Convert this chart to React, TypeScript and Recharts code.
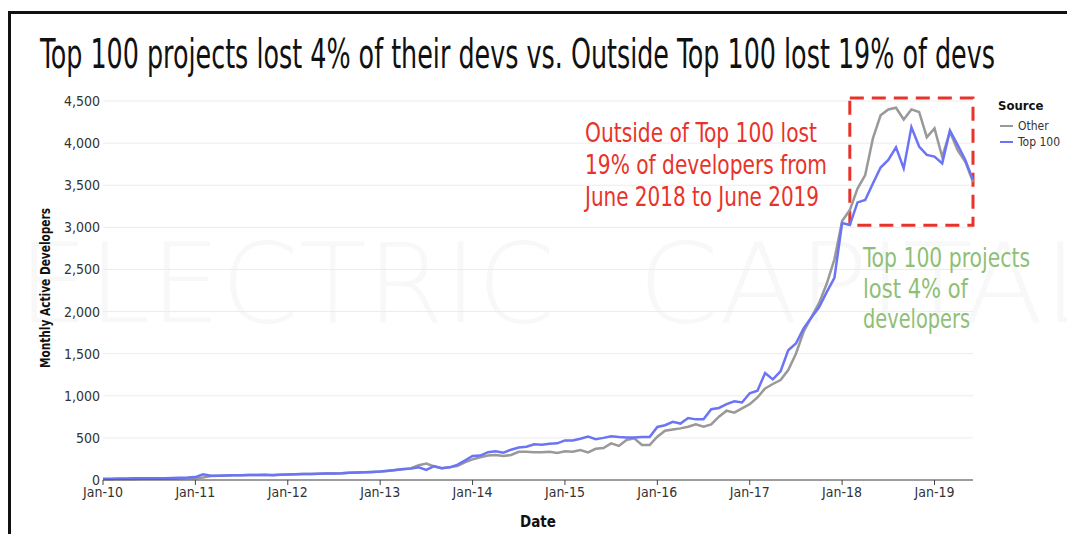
import React from "react";
import {
  LineChart,
  Line,
  XAxis,
  YAxis,
  CartesianGrid,
  ReferenceArea,
} from "recharts";

// monthly active developers, Jan-10 .. Jun-19 (one value per month)
const topHundred = [
  15, 15, 18, 18, 20, 20, 20, 22, 22, 25, 28, 30,
  35, 68, 50, 50, 52, 55, 55, 58, 60, 62, 55, 62,
  65, 68, 70, 72, 74, 76, 78, 80, 85, 88, 92, 96,
  100, 110, 120, 130, 135, 150, 120, 165, 140, 150, 180, 230,
  285, 290, 330, 340, 325, 360, 385, 395, 425, 420, 430, 435,
  470, 470, 490, 515, 485, 500, 520, 510, 505, 505, 510, 510,
  630, 650, 690, 670, 735, 720, 720, 840, 855, 900, 935, 920,
  1030, 1060, 1270, 1195, 1290, 1540, 1620, 1800, 1930, 2050, 2230, 2400,
  3050, 3027, 3296, 3324, 3520, 3710, 3800, 3950, 3700, 4190, 3960, 3860,
  3840, 3760, 4150, 3980, 3800, 3560,
];

const other = [
  10, 10, 12, 12, 12, 14, 15, 15, 15, 16, 18, 20,
  22, 30, 48, 50, 52, 55, 55, 58, 60, 60, 58, 62,
  65, 68, 70, 72, 74, 76, 78, 80, 85, 88, 92, 96,
  100, 108, 118, 128, 140, 175, 195, 160, 140, 150, 165, 210,
  245, 270, 290, 297, 285, 297, 335, 336, 330, 330, 336, 320,
  340, 336, 356, 328, 370, 380, 435, 404, 475, 494, 415, 415,
  514, 585, 600, 613, 633, 661, 633, 661, 752, 823, 799, 851,
  900, 980, 1088, 1140, 1187, 1306, 1500, 1760, 1930, 2100, 2330, 2620,
  3074, 3205, 3460, 3620, 4056, 4330, 4400, 4420, 4280, 4400, 4370, 4070,
  4175, 3838, 4134, 3917, 3778, 3540,
];

const tickLabels = [
  "Jan-10", "Jan-11", "Jan-12", "Jan-13", "Jan-14",
  "Jan-15", "Jan-16", "Jan-17", "Jan-18", "Jan-19",
];
const yTicks = [0, 500, 1000, 1500, 2000, 2500, 3000, 3500, 4000, 4500];

const data = topHundred.map((v, i) => ({ t: i, top: v, other: other[i] }));
const xTicks = tickLabels.map((_, i) => i * 12);

const NARROW = "'Liberation Sans Narrow', 'DejaVu Sans Condensed', 'Roboto', sans-serif";
const RED = "#e8332a";
const GREEN = "#8fbf76";
const BLUE = "#6b74f5";
const GREY = "#999999";

export default function App() {
  return (
    <div
      style={{
        position: "absolute",
        left: 0,
        top: 0,
        width: 1067,
        height: 534,
        overflow: "hidden",
        background: "#fff",
      }}
    >
      {/* watermark */}
      <svg width={1067} height={534} style={{ position: "absolute", left: 0, top: 0 }}>
        <text x={18} y={322} fontFamily="'DejaVu Sans', sans-serif" fontSize={110} fontWeight={300}
          fill="#f8f8f8" textLength={537} lengthAdjust="spacingAndGlyphs">
          ELECTRIC
        </text>
        <text x={638} y={322} fontFamily="'DejaVu Sans', sans-serif" fontSize={110} fontWeight={300}
          fill="#f8f8f8" textLength={470} lengthAdjust="spacingAndGlyphs">
          CAPITAL
        </text>
      </svg>

      <div
        style={{
          position: "absolute",
          left: 8,
          top: 11,
          width: 1100,
          height: 600,
          border: "3px solid #111",
        }}
      />

      <div style={{ position: "absolute", left: 0, top: 0 }}>
        <LineChart
          width={1067}
          height={534}
          data={data}
          margin={{ top: 101, right: 94, bottom: 24, left: 43 }}
        >
          <CartesianGrid vertical={false} stroke="#ececec" />
          <XAxis
            dataKey="t"
            type="number"
            domain={[0, 113]}
            ticks={xTicks}
            tickFormatter={(v) => tickLabels[v / 12]}
            height={30}
            axisLine={{ stroke: "#444" }}
            tickLine={{ stroke: "#444" }}
            tickSize={5}
            tickMargin={2}
            tick={{ fill: "#333", fontSize: 14, fontFamily: NARROW }}
          />
          <YAxis
            domain={[0, 4500]}
            ticks={yTicks}
            width={60}
            axisLine={false}
            tickLine={false}
            tickSize={0}
            tickMargin={3}
            tickFormatter={(v) => v.toLocaleString("en-US")}
            tick={{ fill: "#333", fontSize: 14, fontFamily: NARROW }}
          />
          <Line
            dataKey="other"
            stroke={GREY}
            strokeWidth={2.5}
            dot={false}
            isAnimationActive={false}
          />
          <Line
            dataKey="top"
            stroke={BLUE}
            strokeWidth={2.5}
            dot={false}
            isAnimationActive={false}
          />
          <ReferenceArea
            x1={97}
            x2={113}
            y1={3025}
            y2={4535}
            ifOverflow="visible"
            fill="none"
            stroke={RED}
            strokeWidth={3}
            strokeDasharray="14 8"
          />
        </LineChart>
      </div>

      {/* titles, annotations, legend */}
      <svg
        width={1067}
        height={534}
        style={{ position: "absolute", left: 0, top: 0, pointerEvents: "none" }}
        fontFamily={NARROW}
      >
        <text x={40} y={68} fontSize={40} fill="#111" textLength={955} lengthAdjust="spacingAndGlyphs">
          Top 100 projects lost 4% of their devs vs. Outside Top 100 lost 19% of devs
        </text>

        <text x={585} y={142} fontSize={27} fill={RED} textLength={232} lengthAdjust="spacingAndGlyphs">
          Outside of Top 100 lost
        </text>
        <text x={585} y={174} fontSize={27} fill={RED} textLength={242} lengthAdjust="spacingAndGlyphs">
          19% of developers from
        </text>
        <text x={585} y={206} fontSize={27} fill={RED} textLength={234} lengthAdjust="spacingAndGlyphs">
          June 2018 to June 2019
        </text>

        <text x={863} y={267} fontSize={27} fill={GREEN} textLength={167} lengthAdjust="spacingAndGlyphs">
          Top 100 projects
        </text>
        <text x={863} y={298} fontSize={27} fill={GREEN} textLength={105} lengthAdjust="spacingAndGlyphs">
          lost 4% of
        </text>
        <text x={863} y={328} fontSize={27} fill={GREEN} textLength={107} lengthAdjust="spacingAndGlyphs">
          developers
        </text>

        <text x={998} y={110} fontSize={13} fontWeight="bold" fill="#111">Source</text>
        <line x1={1000} x2={1013} y1={126} y2={126} stroke={GREY} strokeWidth={2} />
        <text x={1018} y={130} fontSize={12} fill="#333">Other</text>
        <line x1={1000} x2={1013} y1={142} y2={142} stroke={BLUE} strokeWidth={2} />
        <text x={1018} y={146} fontSize={12} fill="#333">Top 100</text>

        <text
          transform="translate(50 288) rotate(-90)"
          textAnchor="middle"
          fontSize={14}
          fontWeight="bold"
          fill="#111"
          textLength={160}
          lengthAdjust="spacingAndGlyphs"
        >
          Monthly Active Developers
        </text>
        <text x={538} y={527} textAnchor="middle" fontSize={15} fontWeight="bold" fill="#111">
          Date
        </text>
      </svg>
    </div>
  );
}
